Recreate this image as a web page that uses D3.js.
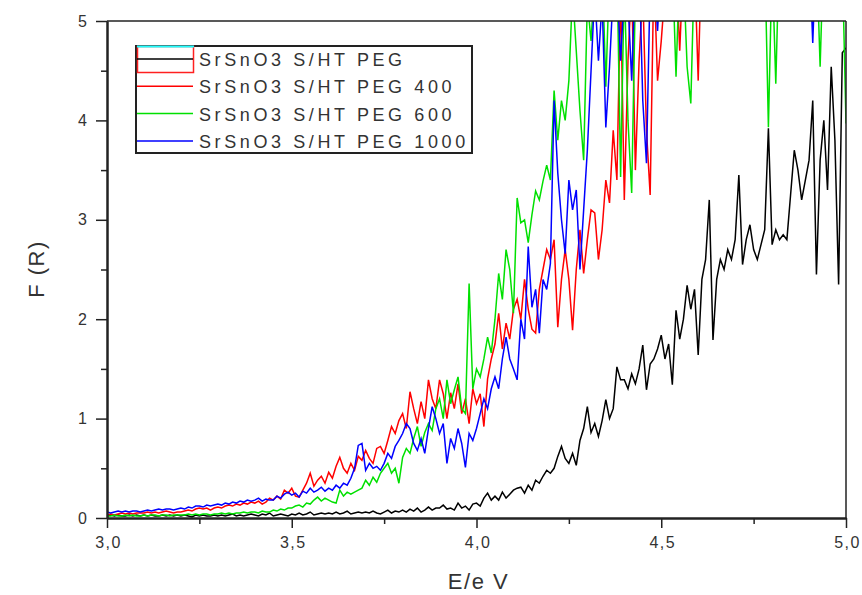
<!DOCTYPE html>
<html>
<head>
<meta charset="utf-8">
<script src="https://cdn.jsdelivr.net/npm/d3@7"></script>
<style>
  body { margin: 0; background: #fff; }
  text { font-family: "Liberation Sans", Arial, sans-serif; fill: #333; }
</style>
</head>
<body>
<div id="chart"></div>
<script>
// sampling grid of the spectra, 3.00 .. 5.00 eV
var energy = d3.range(201).map(function (i) { return +(3 + i * 0.01).toFixed(2); });

var fBlack = [
  0.02,0.03,0.02,0.03,0.02,0.02,0.03,0.02,0.03,0.02,
  0.03,0.02,0.03,0.02,0.02,0.03,0.02,0.03,0.02,0.03,
  0.02,0.03,0.02,0.01,0.03,0.02,0.03,0.02,0.02,0.03,
  0.02,0.03,0.02,0.03,0.04,0.02,0.03,0.02,0.03,0.04,
  0.03,0.02,0.04,0.03,0.05,0.02,0.03,0.04,0.03,0.02,
  0.04,0.03,0.05,0.03,0.04,0.06,0.03,0.04,0.05,0.04,
  0.05,0.04,0.06,0.04,0.05,0.07,0.04,0.05,0.06,0.05,
  0.06,0.05,0.07,0.05,0.04,0.06,0.08,0.05,0.07,0.06,
  0.08,0.06,0.09,0.07,0.10,0.06,0.08,0.11,0.08,0.10,
  0.10,0.13,0.09,0.10,0.08,0.15,0.10,0.12,0.08,0.14,
  0.15,0.12,0.20,0.25,0.18,0.22,0.18,0.26,0.20,0.24,
  0.28,0.30,0.31,0.25,0.33,0.28,0.38,0.35,0.42,0.48,
  0.45,0.50,0.62,0.72,0.60,0.55,0.65,0.53,0.78,0.90,
  1.12,0.86,0.95,0.82,0.98,1.19,1.00,1.10,1.52,1.39,
  1.39,1.30,1.45,1.35,1.50,1.74,1.29,1.55,1.60,1.70,
  1.84,1.60,1.75,1.34,2.09,1.80,2.00,2.34,2.10,2.30,
  1.64,2.40,2.60,3.20,1.79,2.40,2.60,2.50,2.70,2.60,
  2.80,3.45,2.55,2.80,2.95,2.70,2.60,2.75,2.90,3.92,
  2.75,2.90,2.80,2.85,2.80,3.25,3.70,3.50,3.20,3.40,
  3.60,4.20,2.45,3.60,4.00,3.30,4.54,3.80,2.35,4.68,
  4.73
];

var fPeg400 = [
  0.03,0.04,0.03,0.04,0.05,0.04,0.05,0.04,0.05,0.05,
  0.05,0.06,0.05,0.06,0.05,0.06,0.07,0.06,0.05,0.06,
  0.06,0.07,0.08,0.07,0.09,0.10,0.09,0.10,0.08,0.10,
  0.11,0.10,0.12,0.13,0.12,0.14,0.13,0.15,0.14,0.16,
  0.15,0.17,0.14,0.16,0.20,0.18,0.22,0.19,0.28,0.25,
  0.30,0.22,0.21,0.28,0.35,0.45,0.32,0.38,0.42,0.35,
  0.46,0.40,0.52,0.61,0.50,0.45,0.55,0.48,0.62,0.58,
  0.68,0.60,0.55,0.70,0.72,0.65,0.78,0.92,0.85,0.98,
  1.05,0.90,1.27,1.10,0.95,1.17,1.00,1.39,1.20,1.10,
  1.39,1.25,1.00,1.26,1.10,1.35,1.05,1.20,0.95,1.30,
  1.15,1.25,0.92,1.40,1.60,1.75,2.06,1.70,1.96,1.80,
  2.10,2.20,2.00,2.40,2.10,1.90,1.86,2.30,2.50,2.70,
  2.60,2.80,1.92,2.40,2.70,2.40,1.89,2.50,2.90,2.46,
  2.80,3.10,3.07,2.60,2.90,3.40,3.17,3.90,3.40,5.30,
  3.20,4.60,5.40,3.50,4.60,5.30,3.90,3.25,5.50,4.40,
  4.80,5.30,5.60,5.50,5.60,4.70,5.60,5.50,5.70,5.60,
  4.40,5.80,5.70,5.90,5.80,5.70,5.80,5.90,5.80,5.70,
  5.80,5.80,5.70,5.90,5.80,5.70,5.80,5.90,5.80,5.70,
  5.80,5.80,5.70,5.90,5.80,5.70,5.80,5.90,5.80,5.70,
  5.80,5.80,5.70,5.90,5.80,5.70,5.80,5.90,5.80,5.70,
  5.80
];

var fPeg600 = [
  0.02,0.02,0.03,0.02,0.02,0.03,0.02,0.03,0.02,0.02,
  0.03,0.02,0.03,0.03,0.02,0.03,0.03,0.02,0.03,0.03,
  0.03,0.03,0.04,0.03,0.04,0.03,0.04,0.04,0.03,0.04,
  0.04,0.05,0.04,0.05,0.04,0.05,0.05,0.06,0.05,0.06,
  0.06,0.05,0.07,0.06,0.06,0.08,0.07,0.09,0.08,0.10,
  0.10,0.12,0.13,0.11,0.15,0.14,0.18,0.21,0.17,0.20,
  0.18,0.16,0.15,0.28,0.22,0.26,0.24,0.26,0.28,0.30,
  0.38,0.33,0.41,0.36,0.45,0.50,0.55,0.45,0.50,0.35,
  0.61,0.70,0.65,0.80,0.92,0.72,0.86,0.95,0.88,1.10,
  1.20,1.00,1.39,1.15,1.29,1.42,1.10,1.05,2.36,1.30,
  1.50,1.42,1.60,1.82,1.66,2.00,2.46,2.20,2.70,2.50,
  2.06,3.22,2.97,3.00,2.77,3.05,3.29,3.20,3.39,3.55,
  3.40,4.30,3.80,4.20,4.00,4.40,5.30,4.70,4.10,3.60,
  5.20,4.80,5.40,5.20,5.60,4.34,5.50,5.30,5.60,3.43,
  5.40,4.00,3.27,5.30,5.50,5.60,5.40,5.70,5.50,5.60,
  5.60,5.70,5.50,5.60,4.44,5.60,5.50,4.54,4.17,5.60,
  5.70,5.80,5.70,5.80,5.90,5.80,5.70,5.80,5.90,5.80,
  5.70,5.80,5.90,5.80,5.70,5.80,5.90,5.80,5.70,3.93,
  5.60,4.37,5.80,5.90,5.80,5.70,5.80,5.90,5.80,5.70,
  5.80,5.90,5.70,4.54,5.80,5.90,5.80,5.70,5.80,5.60,
  3.97
];

var fPeg1000 = [
  0.06,0.05,0.06,0.07,0.06,0.07,0.06,0.07,0.07,0.06,
  0.07,0.08,0.07,0.08,0.09,0.08,0.09,0.09,0.08,0.09,
  0.10,0.09,0.11,0.10,0.12,0.12,0.11,0.13,0.12,0.13,
  0.14,0.13,0.15,0.14,0.16,0.15,0.17,0.16,0.18,0.17,
  0.18,0.20,0.17,0.19,0.18,0.18,0.22,0.20,0.24,0.26,
  0.23,0.25,0.21,0.27,0.25,0.30,0.26,0.28,0.31,0.27,
  0.30,0.28,0.33,0.30,0.35,0.33,0.40,0.50,0.73,0.75,
  0.48,0.55,0.50,0.52,0.48,0.55,0.65,0.60,0.72,0.78,
  0.85,0.95,0.90,0.75,0.68,0.80,0.65,0.90,1.12,1.00,
  0.85,0.95,0.55,0.80,0.70,0.90,0.75,0.51,0.85,0.78,
  0.90,1.05,1.20,1.10,1.30,1.42,1.30,1.60,1.82,1.60,
  1.50,1.39,2.00,1.80,2.73,2.12,2.30,1.86,2.40,2.30,
  2.56,4.20,3.47,3.00,2.66,3.40,3.10,3.30,2.50,3.10,
  3.70,4.50,5.30,4.60,5.20,3.93,4.54,5.30,5.40,4.60,
  5.30,5.20,4.40,5.50,5.60,4.20,3.57,5.40,5.50,4.90,
  5.60,5.70,5.80,5.70,5.80,5.90,5.80,5.70,5.80,5.90,
  5.80,5.70,5.80,5.90,5.80,5.70,5.80,5.90,5.80,5.70,
  5.80,5.90,5.80,5.70,5.80,5.90,5.80,5.70,5.80,5.90,
  5.80,5.70,5.80,5.90,5.80,5.70,5.80,5.90,5.80,5.70,
  5.80,4.78,5.80,5.90,5.80,5.70,5.80,5.90,5.80,5.70,
  5.80
];

var seriesNames = ["SrSnO3 S/HT PEG", "SrSnO3 S/HT PEG 400", "SrSnO3 S/HT PEG 600", "SrSnO3 S/HT PEG 1000"];
var seriesColors = ["#000000", "#ff0000", "#00e000", "#0000ff"];
var seriesValues = [fBlack, fPeg400, fPeg600, fPeg1000];

var xMajor = [3.0, 3.5, 4.0, 4.5, 5.0];
var xLabels = ["3,0", "3,5", "4,0", "4,5", "5,0"];
var xMinor = [3.25, 3.75, 4.25, 4.75];
var yMajor = [0, 1, 2, 3, 4, 5];
var yMinor = [0.5, 1.5, 2.5, 3.5, 4.5];

var W = 862, H = 595;
var margin = { top: 21, right: 16, bottom: 77, left: 107 };
var iw = W - margin.left - margin.right;
var ih = H - margin.top - margin.bottom;

var svg = d3.select('#chart').append('svg')
  .attr('width', W)
  .attr('height', H);

var g = svg.append('g').attr('transform', 'translate(' + margin.left + ',' + margin.top + ')');

var x = d3.scaleLinear().domain([3, 5]).range([0, iw]);
var y = d3.scaleLinear().domain([0, 5]).range([ih, 0]);

svg.append('defs').append('clipPath').attr('id', 'plotclip')
  .append('rect').attr('x', 0).attr('y', 0).attr('width', iw).attr('height', ih);

// curves
var line = d3.line()
  .x(function (d) { return x(d[0]); })
  .y(function (d) { return y(d[1]); });

var plot = g.append('g').attr('clip-path', 'url(#plotclip)');
seriesValues.forEach(function (vals, i) {
  var pts = vals.map(function (v, j) { return [energy[j], v]; });
  plot.append('path')
    .datum(pts)
    .attr('d', line)
    .attr('fill', 'none')
    .attr('stroke', seriesColors[i])
    .attr('stroke-width', 1.5)
    .attr('stroke-linejoin', 'miter');
});

// frame (top / right)
g.append('line').attr('x1', 0).attr('x2', iw).attr('y1', 0).attr('y2', 0)
  .attr('stroke', '#222').attr('stroke-width', 1.5);
g.append('line').attr('x1', iw).attr('x2', iw).attr('y1', 0).attr('y2', ih)
  .attr('stroke', '#222').attr('stroke-width', 1.5);

// axes
var xAxis = g.append('g').attr('transform', 'translate(0,' + ih + ')')
  .call(d3.axisBottom(x).tickValues(xMajor)
    .tickFormat(function (d, i) { return xLabels[i]; })
    .tickSize(10).tickSizeOuter(0).tickPadding(9));
g.append('g').attr('transform', 'translate(0,' + ih + ')')
  .call(d3.axisBottom(x).tickValues(xMinor).tickFormat('').tickSize(6).tickSizeOuter(0));

var yAxis = g.append('g')
  .call(d3.axisLeft(y).tickValues(yMajor).tickFormat(d3.format('d'))
    .tickSize(11).tickSizeOuter(0).tickPadding(9));
g.append('g')
  .call(d3.axisLeft(y).tickValues(yMinor).tickFormat('').tickSize(6).tickSizeOuter(0));

g.selectAll('.domain').attr('stroke', '#222').attr('stroke-width', 2);
g.selectAll('.tick line').attr('stroke', '#222').attr('stroke-width', 1.5);
g.selectAll('.tick text').attr('font-size', 16).attr('fill', '#333')
  .style('font-family', '"Liberation Sans", Arial, sans-serif');
xAxis.selectAll('.tick text').attr('letter-spacing', 1.5).attr('dx', 1);

// axis titles
svg.append('text')
  .attr('x', margin.left + iw / 2 + 2)
  .attr('y', 589)
  .attr('text-anchor', 'middle')
  .attr('font-size', 22)
  .attr('letter-spacing', 1.5)
  .text('E/e V');

svg.append('text')
  .attr('transform', 'translate(44,' + (margin.top + 248) + ') rotate(-90)')
  .attr('text-anchor', 'middle')
  .attr('font-size', 22)
  .attr('letter-spacing', 1.5)
  .text('F (R)');

// legend
var lg = svg.append('g').attr('transform', 'translate(136,46)');
lg.append('rect')
  .attr('x', 0).attr('y', 0).attr('width', 336).attr('height', 107)
  .attr('fill', '#fff').attr('stroke', '#222').attr('stroke-width', 2);

// the odd first sample of the original legend
lg.append('rect')
  .attr('x', 1.5).attr('y', 0.5).attr('width', 56).attr('height', 26)
  .attr('fill', 'none').attr('stroke', '#ff2020').attr('stroke-width', 1.5);
lg.append('line').attr('x1', 1).attr('x2', 58).attr('y1', 0.5).attr('y2', 0.5)
  .attr('stroke', '#20ffff').attr('stroke-width', 2);

seriesNames.forEach(function (name, i) {
  var yy = 13 + i * 27.3;
  lg.append('line')
    .attr('x1', 1).attr('x2', 57).attr('y1', yy).attr('y2', yy)
    .attr('stroke', seriesColors[i]).attr('stroke-width', 1.5);
  lg.append('text')
    .attr('x', 63).attr('y', yy + 7)
    .attr('font-size', 18)
    .attr('letter-spacing', 3.6)
    .text(name);
});
</script>
</body>
</html>
